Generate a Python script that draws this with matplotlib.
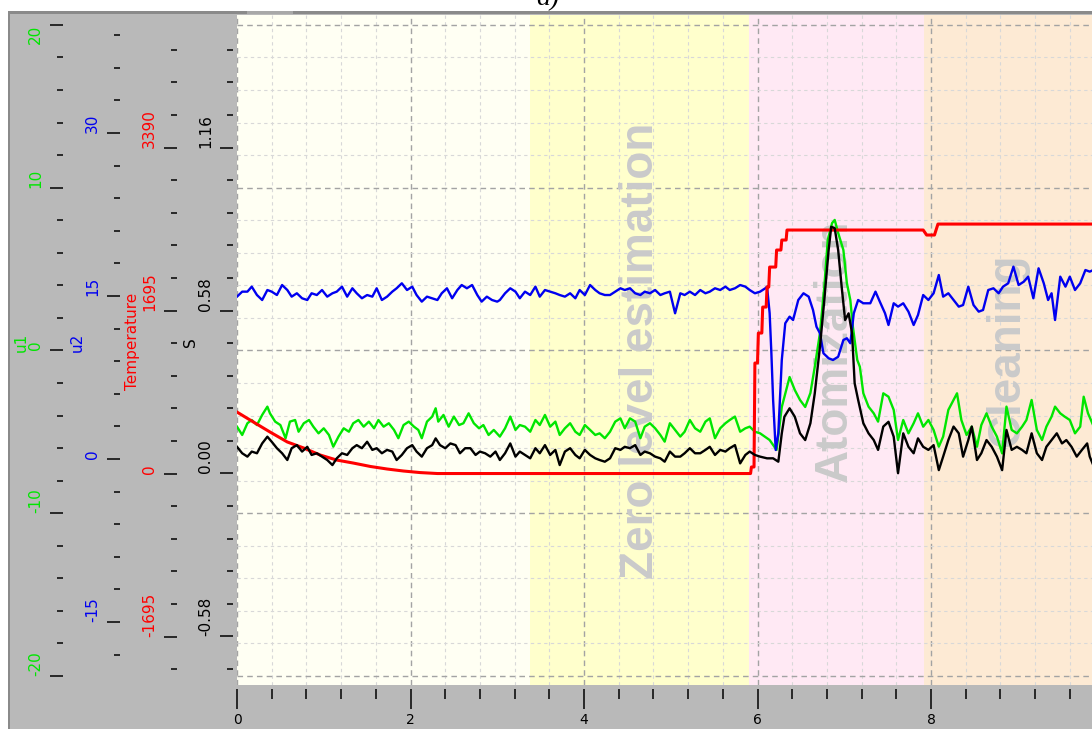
import numpy as np
import matplotlib
matplotlib.use("Agg")
import matplotlib.pyplot as plt
from matplotlib.patches import Rectangle
from matplotlib.ticker import FixedLocator, MultipleLocator
import matplotlib.transforms as mtransforms

# ---------------- data ----------------
PHASE_EDGES = [0.0, 3.38, 5.90, 7.92, 10.0]
PHASE_COLORS = ['#fffff3', '#ffffcc', '#ffe9f4', '#fdead4']
PHASE_LABELS = ['Zero level estimation', 'Atomization', 'Cleaning']
PHASE_LABEL_X = [4.66, 6.89, 8.88]

X_TICKS = [0, 2, 4, 6, 8, 10]
X_TICK_LABELS = ['0', '2', '4', '6', '8', '10']

U1_MAJOR = [20, 10, 0, -10, -20]
U1_LABELS = ['20', '10', '0', '-10', '-20']
U2_MAJOR = [30, 15, 0, -15]
U2_LABELS = ['30', '15', '0', '-15']
T_MAJOR = [3390, 1695, 0, -1695]
T_LABELS = ['3390', '1695', '0', '-1695']
S_MAJOR = [1.16, 0.58, 0.0, -0.58]
S_LABELS = ['1.16', '0.58', '0.00', '-0.58']

# u1 (green)
GREEN_T = [0.00, 0.06, 0.12, 0.17, 0.23, 0.29, 0.35, 0.38, 0.44, 0.50, 0.56, 0.61, 0.67, 0.71, 0.77, 0.83, 0.88, 0.94,
           1.00, 1.06, 1.11, 1.17, 1.23, 1.29, 1.34, 1.40, 1.46, 1.52, 1.58, 1.63, 1.69, 1.75, 1.81, 1.86, 1.92, 1.98,
           2.04, 2.09, 2.13, 2.19, 2.25, 2.29, 2.32, 2.38, 2.44, 2.50, 2.56, 2.61, 2.67, 2.73, 2.79, 2.84, 2.90, 2.96,
           3.03, 3.09, 3.15, 3.21, 3.26, 3.32, 3.38, 3.44, 3.49, 3.55, 3.61, 3.67, 3.72, 3.78, 3.84, 3.90, 3.95, 4.01,
           4.07, 4.13, 4.18, 4.24, 4.30, 4.36, 4.42, 4.47, 4.53, 4.59, 4.65, 4.70, 4.76, 4.82, 4.88, 4.93, 4.99, 5.05,
           5.11, 5.16, 5.22, 5.28, 5.34, 5.40, 5.45, 5.51, 5.57, 5.63, 5.68, 5.74, 5.80, 5.86, 5.91, 5.97, 6.03,
           6.14, 6.22, 6.28, 6.34, 6.37, 6.43, 6.49, 6.55, 6.61, 6.66, 6.72, 6.77, 6.81, 6.86, 6.89, 6.93, 6.99, 7.03,
           7.07, 7.10, 7.15, 7.18,
           7.22, 7.28, 7.34, 7.39, 7.45, 7.51, 7.57, 7.62, 7.68, 7.74, 7.80, 7.85, 7.91, 7.97, 8.03, 8.09, 8.14, 8.20,
           8.26, 8.30, 8.35, 8.41, 8.47, 8.53, 8.58, 8.64, 8.70, 8.76, 8.82, 8.87, 8.93, 8.99, 9.05, 9.10, 9.16, 9.22,
           9.28, 9.33, 9.39, 9.43, 9.49, 9.54, 9.60, 9.66, 9.72, 9.76, 9.81, 9.87]
GREEN_U1 = [-4.68, -5.19, -4.47, -4.27, -4.58, -3.96, -3.45, -3.86, -4.37, -4.58, -5.39, -4.37, -4.27, -4.99, -4.47,
            -4.27, -4.68, -5.09, -4.78, -5.19, -5.91, -5.29, -4.78, -4.99, -4.47, -4.27, -4.68, -4.37, -4.78, -4.27,
            -4.68, -4.47, -4.88, -5.39, -4.58, -4.37, -4.68, -4.88, -5.39, -4.37, -4.06, -3.55, -4.37, -3.96, -4.68,
            -4.06, -4.58, -4.47, -3.86, -4.47, -4.78, -4.58, -5.19, -4.88,
            -5.29, -4.78, -4.06, -4.88, -4.58, -4.68, -4.99, -4.27, -4.58, -3.96, -4.68, -4.37, -5.19, -4.78, -4.47,
            -4.99, -5.19, -4.58, -4.88, -5.19, -5.09, -5.39, -4.99, -4.37, -4.17, -4.78, -4.17, -4.37, -5.39, -4.68,
            -4.47, -4.78, -5.19, -5.60, -4.47, -4.88, -5.29, -4.99, -4.27, -4.78, -4.99, -4.37, -4.17, -5.39, -4.78,
            -4.47, -4.27, -4.06, -4.99, -4.78, -4.68, -4.99, -5.09,
            -5.50, -6.11, -3.47, -2.24, -1.63, -2.43, -3.04, -3.47, -2.61, -1.01, 1.07, 3.90, 6.79, 7.83, 8.02, 7.22,
            6.17, 4.15, 3.10, 1.44, -0.58, -1.00,
            -2.63, -3.45, -3.86, -4.37, -2.63, -2.84, -3.65, -5.50, -4.27, -5.09, -4.47, -3.86, -4.68, -4.27, -4.88,
            -5.91, -5.29, -3.65, -3.04, -2.63, -4.27, -5.19, -4.68, -5.91, -4.58, -3.86, -4.68, -5.29, -6.32, -3.45,
            -4.88, -5.09, -4.68, -4.27, -3.04, -4.88, -5.50, -4.68, -4.06, -3.45, -3.86, -4.06, -4.27, -5.09, -4.68,
            -2.84, -3.86, -4.60]

# u2 (blue)
BLUE_T = [0.00, 0.06, 0.12, 0.17, 0.23, 0.29, 0.35, 0.40, 0.46, 0.52, 0.58, 0.63, 0.69, 0.75, 0.81, 0.86, 0.92, 0.98,
          1.04, 1.10, 1.15, 1.21, 1.27, 1.33, 1.38, 1.44, 1.50, 1.56, 1.61, 1.67, 1.73, 1.79, 1.84, 1.90, 1.96, 2.02,
          2.07, 2.13, 2.19, 2.25, 2.31, 2.36, 2.42, 2.48, 2.54, 2.59, 2.65, 2.71, 2.77, 2.82, 2.88, 2.94, 3.00,
          3.03, 3.09, 3.15, 3.21, 3.26, 3.32, 3.38, 3.44, 3.49, 3.55, 3.61, 3.67, 3.72, 3.78, 3.84, 3.90, 3.95, 4.01,
          4.07, 4.13, 4.18, 4.24, 4.30, 4.36, 4.42, 4.47, 4.53, 4.59, 4.65, 4.70, 4.76, 4.82, 4.88, 4.93, 4.99, 5.05,
          5.11, 5.16, 5.22, 5.28, 5.34, 5.40, 5.45, 5.51, 5.57, 5.63, 5.68, 5.74, 5.80, 5.86, 5.91, 5.97, 6.03, 6.09,
          6.11, 6.14, 6.16, 6.18, 6.21, 6.24, 6.28, 6.32, 6.37, 6.41, 6.47, 6.53, 6.59, 6.64, 6.68, 6.72, 6.76, 6.82,
          6.87, 6.93, 6.99, 7.03, 7.07, 7.11, 7.16, 7.22,
          7.30, 7.36, 7.41, 7.47, 7.51, 7.57, 7.62, 7.68, 7.74, 7.80, 7.85, 7.91, 7.97, 8.03, 8.09, 8.14, 8.20, 8.26,
          8.32, 8.37, 8.43, 8.49, 8.55, 8.60, 8.66, 8.72, 8.78, 8.83, 8.89, 8.95, 9.01, 9.07, 9.12, 9.18, 9.24, 9.30,
          9.35, 9.39, 9.43, 9.49, 9.55, 9.60, 9.66, 9.72, 9.78, 9.83, 9.87]
BLUE_U2 = [14.94, 15.40, 15.40, 15.86, 15.09, 14.63, 15.55, 15.40, 15.09, 16.01, 15.55, 14.94, 15.25, 14.79, 14.63,
           15.25, 15.09, 15.55, 14.94, 15.25, 15.40, 15.86, 14.94, 15.71, 15.25, 14.79, 15.09, 14.94, 15.71, 14.63,
           14.94, 15.40, 15.71, 16.17, 15.55, 15.86, 15.09, 14.48, 14.94, 14.79, 14.63, 15.25, 15.71, 14.79, 15.55,
           16.01, 15.71, 16.01, 15.09, 14.48, 14.94, 14.63, 14.48,
           14.63, 15.25, 15.71, 15.40, 14.79, 15.40, 15.09, 15.86, 14.94, 15.55, 15.40, 15.25, 15.09, 14.94, 15.25,
           14.79, 15.55, 15.09, 16.01, 15.55, 15.25, 15.09, 15.09, 15.40, 15.71, 15.55, 15.71, 15.25, 15.09, 15.40,
           15.25, 15.55, 15.09, 15.25, 15.40, 13.41, 15.25, 15.09, 15.40, 15.09, 15.55, 15.25, 15.40, 15.71, 15.55,
           15.86, 15.55, 15.71, 16.01, 15.86, 15.55, 15.25, 15.40, 15.71,
           15.86, 13.41, 9.73, 5.43, 0.83, 2.36, 9.11, 12.49, 13.10, 12.79, 14.63, 15.25, 14.94, 13.71, 12.17, 11.57,
           9.73, 9.27, 9.11, 9.41, 10.95, 11.11, 10.65, 13.41, 14.63, 14.33,
           14.33, 15.40, 14.48, 13.41, 12.33, 14.33, 14.02, 14.33, 13.56, 12.33, 13.25, 15.09, 14.63, 15.25, 16.93,
           14.94, 15.25, 14.63, 14.02, 14.17, 15.86, 14.17, 13.56, 13.71, 15.55, 15.71, 15.25, 15.86, 16.17, 17.70,
           16.01, 16.32, 16.78, 14.79, 17.55, 16.17, 14.63, 15.25, 12.79, 16.78, 15.86, 16.78, 15.55, 16.17, 17.39,
           17.24, 17.39]

# S (black)
BLACK_T = [0.00, 0.06, 0.12, 0.17, 0.23, 0.29, 0.35, 0.40, 0.46, 0.52, 0.58, 0.63, 0.69, 0.75, 0.81, 0.86, 0.92, 0.98,
           1.04, 1.10, 1.15, 1.21, 1.27, 1.33, 1.38, 1.44, 1.50, 1.56, 1.61, 1.67, 1.73, 1.79, 1.84, 1.90, 1.96, 2.02,
           2.07, 2.13, 2.19, 2.25, 2.29, 2.34, 2.40, 2.46, 2.52, 2.57, 2.63, 2.69, 2.75, 2.80, 2.86, 2.92, 2.98,
           3.03, 3.09, 3.15, 3.21, 3.26, 3.32, 3.38, 3.44, 3.49, 3.55, 3.61, 3.67, 3.72, 3.78, 3.84, 3.90, 3.95, 4.01,
           4.07, 4.13, 4.18, 4.24, 4.30, 4.36, 4.42, 4.47, 4.53, 4.59, 4.65, 4.70, 4.76, 4.82, 4.88, 4.93, 4.99, 5.05,
           5.11, 5.16, 5.22, 5.28, 5.34, 5.40, 5.45, 5.51, 5.57, 5.63, 5.68, 5.74, 5.80, 5.86, 5.91, 5.97, 6.03,
           6.11, 6.18, 6.24, 6.28, 6.31, 6.37, 6.43, 6.49, 6.55, 6.61, 6.66, 6.72, 6.77, 6.82, 6.85, 6.89, 6.93, 6.97,
           7.01, 7.05, 7.09, 7.12, 7.16,
           7.22, 7.28, 7.34, 7.39, 7.45, 7.51, 7.57, 7.62, 7.68, 7.74, 7.80, 7.85, 7.91, 7.97, 8.03, 8.09, 8.14, 8.20,
           8.26, 8.32, 8.37, 8.43, 8.47, 8.53, 8.58, 8.64, 8.70, 8.76, 8.82, 8.87, 8.93, 8.99, 9.05, 9.10, 9.16, 9.22,
           9.28, 9.33, 9.39, 9.45, 9.51, 9.56, 9.62, 9.68, 9.74, 9.80, 9.83, 9.87]
BLACK_S = [0.095, 0.072, 0.060, 0.078, 0.072, 0.107, 0.131, 0.113, 0.090, 0.072, 0.048, 0.090, 0.101, 0.078, 0.095,
           0.066, 0.072, 0.060, 0.048, 0.030, 0.054, 0.072, 0.066, 0.090, 0.101, 0.090, 0.113, 0.084, 0.090, 0.072,
           0.084, 0.078, 0.048, 0.066, 0.090, 0.101, 0.078, 0.060, 0.090, 0.101, 0.125, 0.101, 0.090, 0.107, 0.101,
           0.072, 0.090, 0.090, 0.066, 0.078, 0.072, 0.060, 0.078,
           0.048, 0.072, 0.107, 0.060, 0.078, 0.066, 0.054, 0.090, 0.072, 0.101, 0.066, 0.084, 0.030, 0.078, 0.090,
           0.066, 0.054, 0.084, 0.066, 0.054, 0.048, 0.042, 0.054, 0.090, 0.084, 0.095, 0.090, 0.101, 0.066, 0.078,
           0.072, 0.060, 0.054, 0.042, 0.078, 0.060, 0.060, 0.072, 0.090, 0.072, 0.072, 0.084, 0.095, 0.066, 0.084,
           0.078, 0.090, 0.101, 0.036, 0.066, 0.078, 0.066, 0.060,
           0.054, 0.054, 0.042, 0.143, 0.202, 0.232, 0.202, 0.143, 0.119, 0.179, 0.285, 0.451, 0.617, 0.795, 0.878,
           0.873, 0.795, 0.665, 0.546, 0.570, 0.499, 0.321, 0.262,
           0.179, 0.143, 0.119, 0.084, 0.167, 0.184, 0.131, 0.001, 0.143, 0.095, 0.072, 0.125, 0.095, 0.084, 0.101,
           0.012, 0.060, 0.119, 0.167, 0.143, 0.060, 0.119, 0.167, 0.048, 0.072, 0.119, 0.095, 0.060, 0.012, 0.155,
           0.084, 0.095, 0.084, 0.072, 0.143, 0.072, 0.048, 0.095, 0.119, 0.143, 0.107, 0.119, 0.095, 0.060, 0.084,
           0.107, 0.060, 0.030]

# Temperature (red)
TEMP_T = [0.00, 0.19, 0.38, 0.58, 0.77, 0.96, 1.15, 1.34, 1.54, 1.73, 1.92, 2.11, 2.31, 5.92, 5.93, 5.96, 5.97,
          6.00, 6.01, 6.05, 6.06, 6.10, 6.11, 6.13, 6.14, 6.21, 6.22, 6.27, 6.28, 6.33, 6.34, 7.91, 7.95, 8.04,
          8.08, 9.90]
TEMP_V = [639, 535, 432, 328, 265, 192, 140, 109, 73, 47, 26, 10, 0, 0, 68, 68, 1149, 1149, 1461, 1461, 1731,
          1731, 1939, 1939, 2147, 2147, 2324, 2324, 2428, 2428, 2532, 2532, 2480, 2480, 2594, 2594]

GREEN = '#00e600'
BLUE = '#0000f0'
RED = '#ff0000'
BLACK = '#000000'

# ---------------- figure ----------------
W, H = 1092, 729
PT = 0.72  # points per pixel at 100 dpi
fig = plt.figure(figsize=(W / 100, H / 100), dpi=100)
fig.patch.set_facecolor('#b9b9b9')


def fx(p):
    return p / W


def fy(p):
    return 1 - p / H


# white margins and dark frame lines of the screenshot
fig.add_artist(Rectangle((0, fy(11)), 1, 11 / H, transform=fig.transFigure, facecolor='white',
                         edgecolor='none', zorder=-5))
fig.add_artist(Rectangle((0, 0), fx(8), 1, transform=fig.transFigure, facecolor='white',
                         edgecolor='none', zorder=-5))
fig.add_artist(Rectangle((fx(8), fy(14)), 1, 3 / H, transform=fig.transFigure, facecolor='#8a8a8a',
                         edgecolor='none', zorder=-4))
fig.add_artist(Rectangle((fx(8), 0), 2 / W, fy(11), transform=fig.transFigure, facecolor='#8a8a8a',
                         edgecolor='none', zorder=-4))
fig.add_artist(Rectangle((fx(247), fy(14)), 46 / W, 3 / H, transform=fig.transFigure, facecolor='#a8a8a8',
                         edgecolor='none', zorder=-3))

fig.text(fx(548), fy(5), 'a)', ha='center', va='baseline', fontsize=20, style='italic',
         family='Liberation Serif')

# main axes (u1 scale, carries the grid and the x axis)
ax = fig.add_axes([fx(237), fy(685), (1104.5 - 237) / W, (685 - 15) / H])
ax.set_xlim(0, 10)
ax.set_ylim(-20.55, 20.61)
ax.set_facecolor(PHASE_COLORS[0])
for s in ax.spines.values():
    s.set_visible(False)

for i, c in enumerate(PHASE_COLORS):
    ax.axvspan(PHASE_EDGES[i], PHASE_EDGES[i + 1], color=c, lw=0, zorder=0.5)

ax.set_xticks(X_TICKS)
ax.set_xticklabels(X_TICK_LABELS, fontweight='bold', fontsize=10.5, family='DejaVu Sans')
ax.xaxis.set_minor_locator(MultipleLocator(0.4))
ax.spines['bottom'].set_position(('outward', 4 * PT))
ax.tick_params(axis='x', which='major', direction='out', length=20 * PT, width=1.1, pad=3, color='black')
ax.tick_params(axis='x', which='minor', direction='out', length=10 * PT, width=1.1, color='black')

ax.yaxis.set_major_locator(FixedLocator(U1_MAJOR))
ax.yaxis.set_minor_locator(MultipleLocator(2))
ax.spines['left'].set_position(('outward', (237 - 63) * PT))
ax.tick_params(axis='y', which='major', direction='out', length=13 * PT, width=1.1, color='black',
               labelleft=False)
ax.tick_params(axis='y', which='minor', direction='out', length=6 * PT, width=1.1, color='black')

ax.grid(which='major', axis='both', color='#a3a3a3', linestyle=(0, (4, 3)), linewidth=1.0, zorder=1)
ax.grid(which='minor', axis='both', color='#d8d8d8', linestyle=(0, (3, 3)), linewidth=0.8, zorder=1)

for lab, xl in zip(PHASE_LABELS, PHASE_LABEL_X):
    ax.text(xl, 0, lab, rotation=90, ha='center', va='center', fontsize=33, fontweight='bold',
            color='#cacaca', family='Liberation Sans', zorder=1.7)

ax.plot(GREEN_T, GREEN_U1, color=GREEN, lw=1.7, zorder=2)


def make_twin(ylim, spine_px, major, minor):
    t = ax.twinx()
    t.set_ylim(*ylim)
    for s in t.spines.values():
        s.set_visible(False)
    t.yaxis.tick_left()
    t.spines['left'].set_position(('outward', (237 - spine_px) * PT))
    t.yaxis.set_major_locator(FixedLocator(major))
    t.yaxis.set_minor_locator(FixedLocator(minor))
    t.tick_params(axis='y', which='major', direction='out', length=13 * PT, width=1.1, color='black',
                  labelleft=False, labelright=False, right=False)
    t.tick_params(axis='y', which='minor', direction='out', length=6 * PT, width=1.1, color='black',
                  right=False)
    return t


ax_u2 = make_twin((-20.80, 40.86), 120, U2_MAJOR, list(np.arange(-18, 40, 3)))
ax_T = make_twin((-2199, 4768), 177, T_MAJOR, list(np.arange(-2034, 4500, 339)))
ax_S = make_twin((-0.7527, 1.6317), 233, S_MAJOR, list(np.arange(-0.696, 1.55, 0.116)))

ax_u2.plot(BLUE_T, BLUE_U2, color=BLUE, lw=1.7)
ax_T.plot(TEMP_T, TEMP_V, color=RED, lw=2.2)
ax_S.plot(BLACK_T, BLACK_S, color=BLACK, lw=1.7)


def add_labels(a, values, labels, right_px, color):
    tr = mtransforms.blended_transform_factory(fig.transFigure, a.transData)
    for v, s in zip(values, labels):
        va = 'bottom'
        if a is ax and v == max(values):
            va = 'top'
        a.text(fx(right_px), v, s, transform=tr, rotation=90, ha='right', va=va, color=color,
               fontsize=11, clip_on=False)


add_labels(ax, U1_MAJOR, U1_LABELS, 43, GREEN)
add_labels(ax_u2, U2_MAJOR, U2_LABELS, 100, BLUE)
add_labels(ax_T, T_MAJOR, T_LABELS, 157, RED)
add_labels(ax_S, S_MAJOR, S_LABELS, 213, BLACK)

fig.text(fx(21), fy(342), 'u1', rotation=90, ha='center', va='center', color=GREEN, fontsize=11)
fig.text(fx(77), fy(342), 'u2', rotation=90, ha='center', va='center', color=BLUE, fontsize=11)
fig.text(fx(133), fy(341), 'Temperature', rotation=90, ha='center', va='center', color=RED, fontsize=11)
fig.text(fx(190), fy(342), 'S', rotation=90, ha='center', va='center', color=BLACK, fontsize=11)

fig.savefig('out.png', dpi=100, facecolor=fig.get_facecolor())
